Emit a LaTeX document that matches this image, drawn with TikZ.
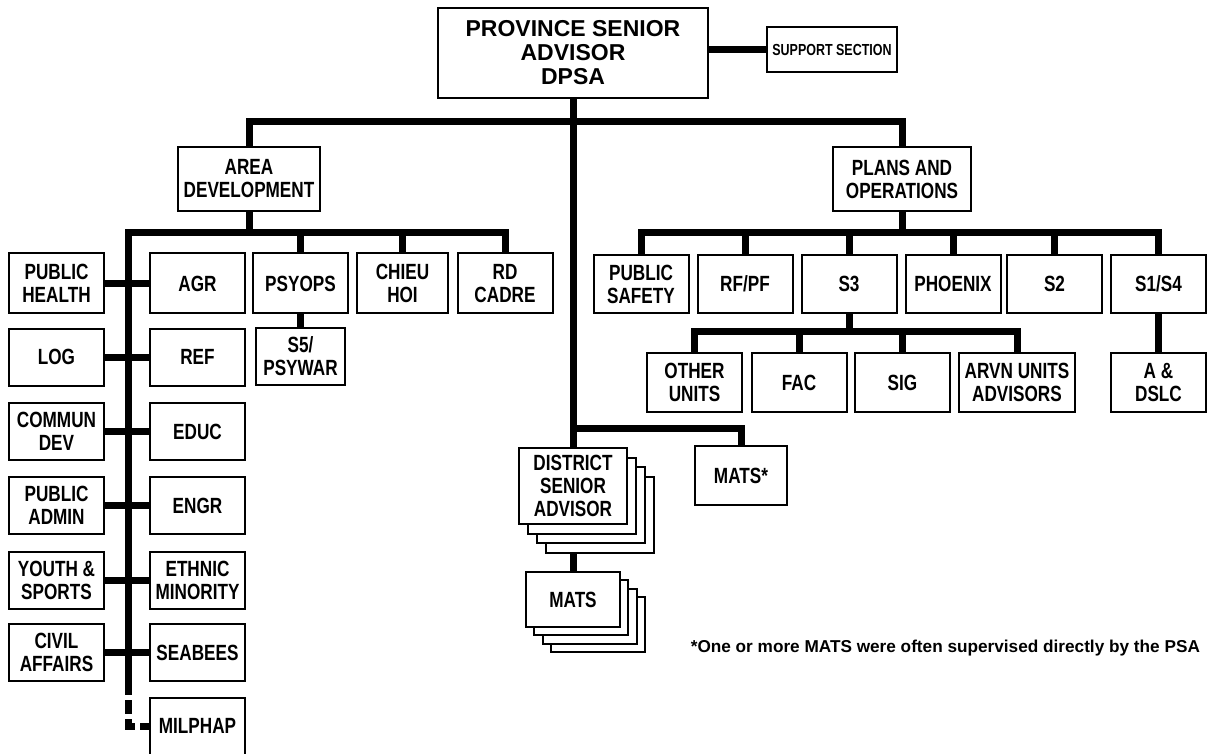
\documentclass[tikz,border=0pt]{standalone}
\usepackage{fontspec}
\setmainfont{Liberation Sans}[FakeStretch=0.78]
\newfontfamily\headfont{Liberation Sans}
\usetikzlibrary{backgrounds}
\begin{document}
\begin{tikzpicture}[x=0.5pt,y=-0.5pt]
    \tikzstyle{box} = [draw, line width=1pt, fill=white, inner sep=0pt, align=center,
                       font=\fontsize{11}{11.5}\selectfont\bfseries]
    \tikzstyle{unit} = [box, minimum width=47.5pt, minimum height=28.5pt]
    \tikzstyle{link} = [line width=3.5pt]
    \useasboundingbox (0,0) rectangle (1210,754);
    % top level
    \node[box, minimum width=135pt, minimum height=45pt,
          font=\fontsize{11.5}{12}\headfont\bfseries] (psa) at (573,53) {PROVINCE SENIOR\\ADVISOR\\DPSA};
    \node[box, minimum width=65pt, minimum height=22.5pt,
          font=\fontsize{8}{9}\selectfont\bfseries] (support) at (832,49.5) {SUPPORT SECTION};
    \node[box, minimum width=71pt, minimum height=32pt] (area) at (249,179) {AREA\\DEVELOPMENT};
    \node[box, minimum width=69pt, minimum height=32pt] (plans) at (902,179) {PLANS AND\\OPERATIONS};
    % area development
    \node[unit, minimum height=30pt] (health) at (56.5,283.5) {PUBLIC\\HEALTH};
    \node[unit, minimum height=30pt] (agr) at (197.5,283.5) {AGR};
    \node[unit, minimum height=30pt] (psyops) at (300.5,283.5) {PSYOPS};
    \node[unit, minimum height=30pt, minimum width=45.5pt] (chieu) at (402.5,283.5) {CHIEU\\HOI};
    \node[unit, minimum height=30pt] (rd) at (505,283.5) {RD\\CADRE};
    \node[unit, minimum width=44.5pt] (s5) at (300.5,356.5) {S5/\\PSYWAR};
    \node[unit] (log) at (56.5,357) {LOG};
    \node[unit] (ref) at (197.5,357) {REF};
    \node[unit] (commun) at (56.5,431.5) {COMMUN\\DEV};
    \node[unit] (educ) at (197.5,431.5) {EDUC};
    \node[unit] (padmin) at (56.5,505.5) {PUBLIC\\ADMIN};
    \node[unit] (engr) at (197.5,505.5) {ENGR};
    \node[unit] (youth) at (56.5,580.5) {YOUTH \&\\SPORTS};
    \node[unit] (ethnic) at (197.5,580.5) {ETHNIC\\MINORITY};
    \node[unit] (civil) at (56.5,652.5) {CIVIL\\AFFAIRS};
    \node[unit] (seabees) at (197.5,652.5) {SEABEES};
    \node[unit] (milphap) at (197.5,726) {MILPHAP};
    % plans and operations
    \node[unit, minimum height=29pt] (ps) at (641,284) {PUBLIC\\SAFETY};
    \node[unit, minimum height=29pt] (rf) at (745,284) {RF/PF};
    \node[unit, minimum height=29pt] (s3) at (849,284) {S3};
    \node[unit, minimum height=29pt] (phoenix) at (953,284) {PHOENIX};
    \node[unit, minimum height=29pt] (s2) at (1054.5,284) {S2};
    \node[unit, minimum height=29pt] (s1s4) at (1158.5,284) {S1/S4};
    \node[unit, minimum height=29.5pt] (other) at (694.5,382.5) {OTHER\\UNITS};
    \node[unit, minimum height=29.5pt] (fac) at (799,382.5) {FAC};
    \node[unit, minimum height=29.5pt] (sig) at (902.5,382.5) {SIG};
    \node[unit, minimum height=29.5pt, minimum width=58pt] (arvn) at (1017,382.5) {ARVN UNITS\\ADVISORS};
    \node[unit, minimum height=29.5pt] (adslc) at (1158.5,382.5) {A \&\\DSLC};
    % districts
    \foreach \d in {3,2,1}
        \node[box, minimum width=54pt, minimum height=38pt] at (573+9*\d,486+9.7*\d) {};
    \node[box, minimum width=54pt, minimum height=38pt] (dsa) at (573,486) {DISTRICT\\SENIOR\\ADVISOR};
    \foreach \d in {3,2,1}
        \node[box, minimum width=47pt, minimum height=27.5pt] at (573+8.3*\d,599.5+8.3*\d) {};
    \node[box, minimum width=47pt, minimum height=27.5pt] (mats) at (573,599.5) {MATS};
    \node[box, minimum width=46pt, minimum height=29.5pt] (matsx) at (741,475.5) {MATS*};
    \node[anchor=east, font=\fontsize{8.6}{9}\headfont\bfseries] (note) at (1207,648)
        {*One or more MATS were often supervised directly by the PSA};
    % connectors
    \coordinate (top) at (573,122);
    \coordinate (dbar) at (573,428);
    \coordinate (abar) at (249,233);
    \coordinate (ltop) at (128,233);
    \coordinate (lend) at (128,681);
    \coordinate (pbar) at (902,233);
    \coordinate (sbar) at (849,331);
    \begin{scope}[on background layer]
        \draw[link] (psa.east |- support) -- (support.west);
        \draw[link] (area.north) |- (top) -| (plans.north);
        \draw[link] (psa.south) -- (dsa.north);
        \draw[link] (dbar) -| (matsx.north);
        \draw[link] (dsa.south) -- (mats.north);
        \draw[link] (area.south) -- (abar);
        \draw[link] (lend) -- (ltop) -| (rd.north);
        \draw[link] (psyops.north |- ltop) -- (psyops.north);
        \draw[link] (chieu.north |- ltop) -- (chieu.north);
        \draw[link] (psyops.south) -- (s5.north);
        \draw[link, dash pattern=on 7pt off 2.5pt] (lend) |- (milphap.west);
        \foreach \l/\r in {health/agr, log/ref, commun/educ, padmin/engr, youth/ethnic, civil/seabees}
            \draw[link] (\l.east) -- (\r.west);
        \draw[link] (plans.south) -- (pbar);
        \draw[link] (ps.north) |- (pbar) -| (s1s4.north);
        \foreach \n in {rf, s3, phoenix, s2}
            \draw[link] (\n.north |- pbar) -- (\n.north);
        \draw[link] (s3.south) -- (sbar);
        \draw[link] (other.north) |- (sbar) -| (arvn.north);
        \draw[link] (fac.north |- sbar) -- (fac.north);
        \draw[link] (sig.north |- sbar) -- (sig.north);
        \draw[link] (s1s4.south) -- (adslc.north);
    \end{scope}
\end{tikzpicture}
\end{document}
